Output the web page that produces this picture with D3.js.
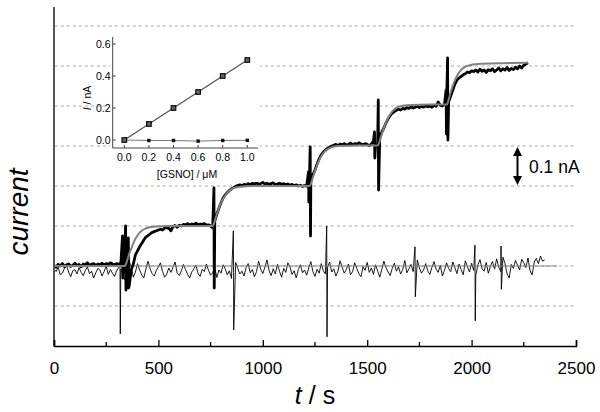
<!DOCTYPE html>
<html><head><meta charset="utf-8">
<script src="https://cdn.jsdelivr.net/npm/d3@7"></script>
<style>body{margin:0;background:#fff}svg{display:block}text{font-family:"Liberation Sans",Arial,sans-serif}</style>
</head><body><svg id="c" width="600" height="412"></svg>
<script>
// ---------- DATA ----------
const xTicks = [0, 500, 1000, 1500, 2000, 2500];
const gridLevels = [-0.1, 0, 0.1, 0.2, 0.3, 0.4, 0.5, 0.6]; // nA
const sampleStep = 10; // s
// GSNO sensor response (pA), every 10 s from t = 0
const sensorPA = [
 2,-3,4,0,6,-2,3,5,-1,2, 7,1,4,-2,5,3,8,2,4,6, 1,5,3,7,2,6,4,8,5,3, 6,4,
 5,-20,60,-40,-50,-10,
 5,28,38,48,56,65,72,76,80,84, 86,88,90,92,90,95,96,94,88,99, 101,97,102,100,104,103,106,102,105,104, 107,103,105,104,106,102,103,100,
 95,112,130,145,158,170,178,184,189,193, 196,199,201,203,200,204,202,206,203,207, 205,208,204,206,209,205,207,204,206,208, 203,205,207,204,206,203,205,202,204,201, 203,200,202,199,201,200,196,
 215,228,240,255,268,278,285,290,294,297, 300,302,304,301,305,303,306,302,304,307, 303,306,304,308,305,303,306,304,301,305, 312,300,305,
 320,335,345,358,368,376,382,386,389,392, 390,394,392,396,394,398,395,397,400,396, 399,397,401,398,400,397,402,399,410,402, 400,404,400,
 410,425,440,455,465,470,474,478,481,485, 483,488,486,490,485,492,487,490,484,491, 488,493,486,490,495,488,493,490,496,489, 494,491,497,493,500,495,502,505,508
];
// sensor spikes: time (s), high (pA), low (pA)
const sensorSpikeT  = [328, 343, 356, 766, 1219, 1227, 1535, 1553, 1878, 1885];
const sensorSpikeHi = [75, 100, 70, 195, 235, 298, 335, 415, 440, 520];
const sensorSpikeLo = [-30, -60, -55, -55, 160, 75, 270, 190, 330, 315];
// fitted response (time s, pA)
const fitT  = [0,340,345,360,375,390,405,420,440,460,490,550,760, 765,780,795,810,825,840,860,890,950,1225, 1230,1245,1260,1275,1290,1305,1325,1360,1450,1550, 1555,1570,1585,1600,1615,1630,1650,1690,1800,1882, 1887,1900,1915,1930,1945,1960,1985,2030,2150,2270];
const fitPA = [0,0,5,30,50,68,80,88,94,97,99,100,100, 105,130,152,168,180,188,195,198,200,200, 205,230,252,270,282,290,296,300,301,301, 305,330,352,370,383,392,398,402,404,404, 410,435,458,475,487,495,501,505,507,508];
// control electrode (pA), every 10 s from t = 0
const controlPA = [
 -8,-14,-3,-22,-18,-6,2,-15,-27,-12, -9,-20,-4,-16,-24,-11,-2,-19,-13,-30, -17,-6,-10,-25,-14,0,-21,-9,-18,-26,
 -12,-3,-8,-20,-35,-18,14,-5,-28,-15, 6,-10,-22,-30,-8,12,-6,-19,-25,-11, -2,8,-14,-28,-20,-5,-16,-3,10,-18,
 -24,-12,4,-9,-21,-30,-15,-7,2,-19, -26,-8,-14,5,-11,-23,-17,-4,-29,-10, -18,3,-7,-22,-12,-31,-16,9,-6,-20,
 -13,-25,-4,6,-17,-9,-27,-14,12,-8, -19,-3,15,-11,-24,-7,-20,4,-13,-28, -6,-16,8,-2,-21,-12,-30,-9,3,-17,
 -10,-23,-5,11,-14,-26,-8,-18,6,-12, -20,-4,10,-15,-7,-25,-13,13,-3,-18, -9,5,-22,-14,8,-6,-19,-27,-2,-11,
 9,-16,-5,-21,3,-12,-28,-8,12,-4, -15,-24,-6,7,-13,-2,-20,-9,14,-17, -7,4,-14,-23,15,-5,-18,-10,6,-12,
 -21,-3,11,-8,-16,2,-25,-11,8,-6, -14,10,-4,-19,5,-9,-22,13,-2,-15, 7,-11,-24,3,16,-7,-13,9,-18,-1,
 11,-8,18,-3,-14,22,6,-20,-30,4, -6,14,2,-10,17,8,-4,20,-12,-22, 10,19,6,25,12,15
];
const controlSpikeT  = [316, 859, 1306, 1729, 2016, 2141];
const controlSpikeHi = [10, 88, 100, 48, 52, 50];
const controlSpikeLo = [-170, -160, -177, -77, -137, -58];
const controlFitEnd = 2410; // s
// inset calibration
const gsno = [0, 0.2, 0.4, 0.6, 0.8, 1.0];       // µM
const gsnoSensor = [0, 0.1, 0.2, 0.3, 0.4, 0.5]; // nA
const gsnoControl = [0, -0.003, -0.003, -0.007, -0.003, -0.002]; // nA
const insetXTicks = [0, 0.2, 0.4, 0.6, 0.8, 1.0];
const insetYTicks = [0, 0.2, 0.4, 0.6];

// ---------- DRAW ----------
const svg = d3.select("#c");
const x = d3.scaleLinear([0, 2500], [54, 576]);
const y = d3.scaleLinear([-0.2, 0.65], [346, 6]);

function series(vals, spT, spHi, spLo) {
  const pts = vals.map((v, i) => [i * sampleStep, v / 1000]);
  spT.forEach((t, i) => { pts.push([t, spHi[i] / 1000]); pts.push([t + 1.5, spLo[i] / 1000]); });
  pts.sort((a, b) => a[0] - b[0]);
  return pts;
}
const line = d3.line().x(d => x(d[0])).y(d => y(d[1]));

// gridlines
svg.append("g").selectAll("line").data(gridLevels).join("line")
  .attr("x1", 55).attr("x2", 575).attr("y1", d => y(d)).attr("y2", d => y(d))
  .attr("stroke", "#aaa").attr("stroke-width", 1).attr("stroke-dasharray", "3,3");

// control trace
svg.append("path").datum(series(controlPA, controlSpikeT, controlSpikeHi, controlSpikeLo))
  .attr("d", line).attr("fill", "none").attr("stroke", "#000").attr("stroke-width", 0.9);
svg.append("path").datum([[0, 0], [controlFitEnd, 0]])
  .attr("d", line).attr("fill", "none").attr("stroke", "#888").attr("stroke-width", 1.2);

// sensor trace
svg.append("path").datum(series(sensorPA, sensorSpikeT, sensorSpikeHi, sensorSpikeLo))
  .attr("d", line).attr("fill", "none").attr("stroke", "#000").attr("stroke-width", 2.8).attr("stroke-linejoin", "round");
svg.append("path").datum(fitT.map((t, i) => [t, fitPA[i] / 1000]))
  .attr("d", line.curve(d3.curveMonotoneX)).attr("fill", "none").attr("stroke", "#808080").attr("stroke-width", 2);

// axes
svg.append("line").attr("x1", 54).attr("x2", 54).attr("y1", 7).attr("y2", 346)
  .attr("stroke", "#555").attr("stroke-width", 2);
const xAxis = svg.append("g").attr("transform", "translate(0,346)")
  .call(d3.axisBottom(x).tickValues(xTicks).tickSize(-6).tickPadding(16).tickFormat(d3.format("d")));
xAxis.select(".domain").attr("stroke", "#000").attr("stroke-width", 1.5);
xAxis.selectAll(".tick line").attr("stroke-width", 1.3);
xAxis.selectAll("text").attr("font-size", 17).attr("fill", "#000").attr("font-family", "Liberation Sans, Arial, sans-serif");
svg.append("g").selectAll("line").data(d3.range(250, 2500, 500)).join("line")
  .attr("x1", d => x(d)).attr("x2", d => x(d)).attr("y1", 346).attr("y2", 342)
  .attr("stroke", "#000").attr("stroke-width", 1.3);

svg.append("text").attr("x", 315).attr("y", 404).attr("text-anchor", "middle").attr("font-size", 25)
  .html('<tspan font-style="italic">t</tspan> / s');
svg.append("text").attr("transform", "translate(28,212) rotate(-90)").attr("text-anchor", "middle")
  .attr("font-size", 28).attr("font-style", "italic").text("current");

// scale bar
const ax = 517.5;
svg.append("line").attr("x1", ax).attr("x2", ax).attr("y1", y(0.3) + 6).attr("y2", y(0.2) - 6)
  .attr("stroke", "#000").attr("stroke-width", 2);
svg.append("path").attr("d", `M${ax},${y(0.3)+1} L${ax-4.5},${y(0.3)+10} L${ax+4.5},${y(0.3)+10}Z`).attr("fill", "#000");
svg.append("path").attr("d", `M${ax},${y(0.2)-1} L${ax-4.5},${y(0.2)-10} L${ax+4.5},${y(0.2)-10}Z`).attr("fill", "#000");
svg.append("text").attr("x", 529).attr("y", 173).attr("font-size", 17.5).text("0.1 nA");

// ---------- INSET ----------
const ix = d3.scaleLinear([0, 1], [124.3, 247.3]);
const iy = d3.scaleLinear([0, 0.6], [140, 44]);
const g = svg.append("g");
g.append("rect").attr("x", 110).attr("y", 32).attr("width", 150).attr("height", 150).attr("fill", "#fff");
g.append("line").attr("x1", 112.7).attr("x2", 112.7).attr("y1", 37).attr("y2", 148).attr("stroke", "#444").attr("stroke-width", 1);
g.append("line").attr("x1", 112.7).attr("x2", 258).attr("y1", 148).attr("y2", 148).attr("stroke", "#444").attr("stroke-width", 1);
g.selectAll(".ytk").data(insetYTicks).join("line").attr("x1", 112.7).attr("x2", 115.7)
  .attr("y1", d => iy(d)).attr("y2", d => iy(d)).attr("stroke", "#444");
g.selectAll(".xtk").data(insetXTicks).join("line").attr("y1", 148).attr("y2", 145)
  .attr("x1", d => ix(d)).attr("x2", d => ix(d)).attr("stroke", "#444");
g.selectAll(".ylb").data(insetYTicks).join("text").attr("x", 110.5).attr("y", d => iy(d) + 3.8)
  .attr("text-anchor", "end").attr("font-size", 10.5).text(d3.format(".1f"));
g.selectAll(".xlb").data(insetXTicks).join("text").attr("x", d => ix(d)).attr("y", 161)
  .attr("text-anchor", "middle").attr("font-size", 10.5).text(d3.format(".1f"));
g.append("text").attr("x", 187).attr("y", 178).attr("text-anchor", "middle").attr("font-size", 10.5).text("[GSNO] / μM");
g.append("text").attr("transform", "translate(91,98) rotate(-90)").attr("text-anchor", "middle").attr("font-size", 10.5)
  .html('<tspan font-style="italic">I</tspan> / nA');
const iline = d3.line().x(d => ix(d[0])).y(d => iy(d[1]));
g.append("path").datum(gsno.map((c, i) => [c, gsnoControl[i]])).attr("d", iline)
  .attr("fill", "none").attr("stroke", "#777").attr("stroke-width", 1);
g.append("path").datum(gsno.map((c, i) => [c, gsnoSensor[i]])).attr("d", iline)
  .attr("fill", "none").attr("stroke", "#555").attr("stroke-width", 1.3);
g.selectAll(".cs").data(gsno).join("rect").attr("x", (d) => ix(d) - 1.7).attr("y", (d, i) => iy(gsnoControl[i]) - 1.7)
  .attr("width", 3.4).attr("height", 3.4).attr("fill", "#111");
g.selectAll(".ss").data(gsno).join("rect").attr("x", (d) => ix(d) - 2.3).attr("y", (d, i) => iy(gsnoSensor[i]) - 2.3)
  .attr("width", 4.6).attr("height", 4.6).attr("fill", "#666").attr("stroke", "#000").attr("stroke-width", 1.1);
</script></body></html>
